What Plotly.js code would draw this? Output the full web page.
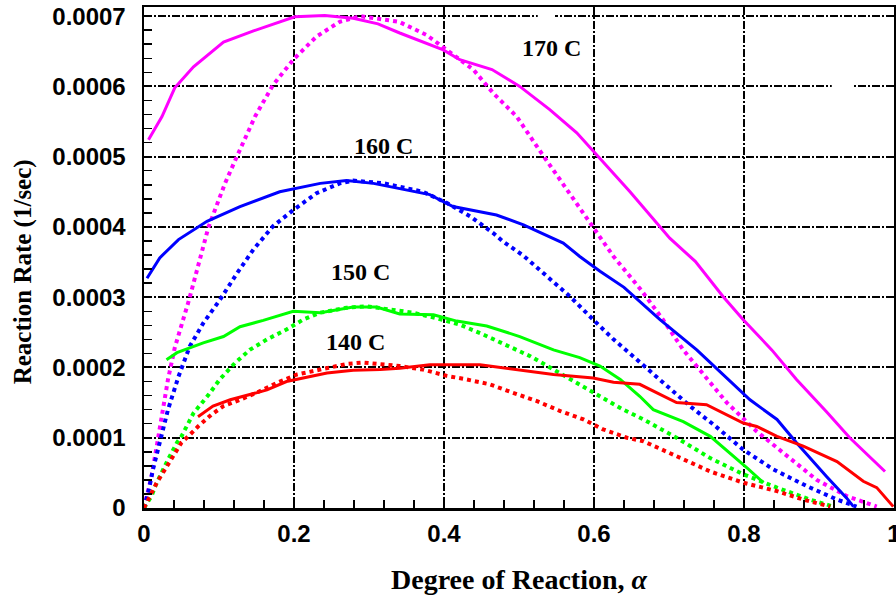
<!DOCTYPE html>
<html>
<head>
<meta charset="utf-8">
<script src="https://cdn.plot.ly/plotly-3.0.1.min.js"></script>
<style>
  html, body { margin: 0; padding: 0; background: #ffffff; }
  #chart { width: 896px; height: 596px; }
</style>
</head>
<body>
<div id="chart"></div>
<script>
// Reaction rate vs. degree of reaction: measured (solid) and model (dotted) curves

// 170 C
const x170exp = [0.006, 0.024, 0.041, 0.066, 0.106, 0.146, 0.201, 0.241, 0.279, 0.312, 0.341, 0.399, 0.421, 0.464, 0.501, 0.541, 0.577, 0.608, 0.648, 0.701, 0.735, 0.772, 0.799, 0.837, 0.87, 0.91, 0.941, 0.988];
const y170exp = [5.24e-4, 5.57e-4, 5.98e-4, 6.28e-4, 6.63e-4, 6.79e-4, 6.99e-4, 7.01e-4, 6.97e-4, 6.89e-4, 6.76e-4, 6.52e-4, 6.38e-4, 6.24e-4, 6.00e-4, 5.67e-4, 5.34e-4, 4.97e-4, 4.50e-4, 3.84e-4, 3.51e-4, 3.01e-4, 2.68e-4, 2.25e-4, 1.83e-4, 1.37e-4, 1.00e-4, 0.52e-4];
const x170mod = [0, 0.010, 0.017, 0.024, 0.032, 0.041, 0.060, 0.086, 0.108, 0.125, 0.148, 0.172, 0.199, 0.230, 0.261, 0.288, 0.340, 0.377, 0.410, 0.439, 0.466, 0.497, 0.530, 0.564, 0.599, 0.626, 0.663, 0.692, 0.719, 0.748, 0.777, 0.817, 0.857, 0.897, 0.937, 0.977];
const y170mod = [0, 0.45e-4, 0.88e-4, 1.30e-4, 1.83e-4, 2.28e-4, 2.96e-4, 4.00e-4, 4.62e-4, 5.03e-4, 5.57e-4, 6.02e-4, 6.38e-4, 6.71e-4, 6.92e-4, 7.00e-4, 6.92e-4, 6.73e-4, 6.47e-4, 6.24e-4, 5.90e-4, 5.57e-4, 5.05e-4, 4.53e-4, 4.00e-4, 3.58e-4, 3.10e-4, 2.68e-4, 2.25e-4, 1.87e-4, 1.50e-4, 1.09e-4, 0.74e-4, 0.40e-4, 0.17e-4, 0.02e-4];

// 160 C
const x160exp = [0.004, 0.021, 0.046, 0.084, 0.128, 0.181, 0.235, 0.270, 0.306, 0.341, 0.381, 0.412, 0.470, 0.506, 0.559, 0.581, 0.608, 0.640, 0.688, 0.737, 0.77, 0.808, 0.844, 0.87, 0.91, 0.937, 0.946];
const y160exp = [3.27e-4, 3.56e-4, 3.82e-4, 4.08e-4, 4.29e-4, 4.50e-4, 4.62e-4, 4.66e-4, 4.62e-4, 4.55e-4, 4.46e-4, 4.29e-4, 4.17e-4, 4.03e-4, 3.77e-4, 3.58e-4, 3.37e-4, 3.14e-4, 2.68e-4, 2.25e-4, 1.92e-4, 1.54e-4, 1.26e-4, 0.93e-4, 0.45e-4, 0.14e-4, 0.02e-4];
const x160mod = [0, 0.006, 0.012, 0.021, 0.032, 0.046, 0.061, 0.079, 0.101, 0.124, 0.146, 0.172, 0.199, 0.230, 0.261, 0.279, 0.320, 0.372, 0.404, 0.435, 0.466, 0.479, 0.506, 0.537, 0.568, 0.599, 0.626, 0.652, 0.690, 0.728, 0.759, 0.799, 0.839, 0.884, 0.924, 0.950];
const y160mod = [0, 0.24e-4, 0.55e-4, 0.93e-4, 1.40e-4, 1.87e-4, 2.30e-4, 2.63e-4, 2.96e-4, 3.34e-4, 3.68e-4, 4.01e-4, 4.24e-4, 4.48e-4, 4.62e-4, 4.66e-4, 4.62e-4, 4.50e-4, 4.34e-4, 4.15e-4, 3.91e-4, 3.79e-4, 3.59e-4, 3.30e-4, 3.01e-4, 2.68e-4, 2.40e-4, 2.16e-4, 1.80e-4, 1.45e-4, 1.19e-4, 0.83e-4, 0.55e-4, 0.31e-4, 0.12e-4, 0.02e-4];

// 150 C
const x150exp = [0.030, 0.044, 0.079, 0.106, 0.128, 0.159, 0.199, 0.235, 0.279, 0.310, 0.341, 0.386, 0.417, 0.457, 0.501, 0.546, 0.581, 0.608, 0.635, 0.661, 0.679, 0.719, 0.755, 0.786, 0.804, 0.826];
const y150exp = [2.11e-4, 2.21e-4, 2.35e-4, 2.44e-4, 2.58e-4, 2.67e-4, 2.80e-4, 2.78e-4, 2.86e-4, 2.86e-4, 2.76e-4, 2.75e-4, 2.66e-4, 2.59e-4, 2.44e-4, 2.25e-4, 2.14e-4, 2.02e-4, 1.83e-4, 1.59e-4, 1.40e-4, 1.23e-4, 1.02e-4, 0.74e-4, 0.57e-4, 0.36e-4];
const x150mod = [0, 0.010, 0.017, 0.024, 0.032, 0.044, 0.050, 0.066, 0.086, 0.101, 0.121, 0.141, 0.164, 0.190, 0.212, 0.235, 0.270, 0.297, 0.330, 0.359, 0.390, 0.421, 0.452, 0.484, 0.515, 0.546, 0.577, 0.608, 0.639, 0.666, 0.710, 0.755, 0.799, 0.844, 0.888, 0.919];
const y150mod = [0, 0.17e-4, 0.36e-4, 0.50e-4, 0.69e-4, 0.93e-4, 1.02e-4, 1.35e-4, 1.61e-4, 1.83e-4, 2.06e-4, 2.25e-4, 2.40e-4, 2.54e-4, 2.68e-4, 2.78e-4, 2.85e-4, 2.87e-4, 2.82e-4, 2.78e-4, 2.70e-4, 2.61e-4, 2.47e-4, 2.32e-4, 2.16e-4, 1.97e-4, 1.78e-4, 1.59e-4, 1.40e-4, 1.26e-4, 1.00e-4, 0.71e-4, 0.48e-4, 0.29e-4, 0.12e-4, 0.02e-4];

// 140 C
const x140exp = [0.072, 0.092, 0.115, 0.141, 0.164, 0.190, 0.221, 0.244, 0.279, 0.315, 0.341, 0.381, 0.448, 0.501, 0.546, 0.599, 0.626, 0.661, 0.69, 0.710, 0.750, 0.777, 0.799, 0.817, 0.844, 0.879, 0.924, 0.959, 0.977, 0.999];
const y140exp = [1.30e-4, 1.45e-4, 1.54e-4, 1.61e-4, 1.68e-4, 1.80e-4, 1.87e-4, 1.92e-4, 1.96e-4, 1.97e-4, 1.99e-4, 2.04e-4, 2.04e-4, 1.96e-4, 1.90e-4, 1.85e-4, 1.79e-4, 1.76e-4, 1.60e-4, 1.50e-4, 1.47e-4, 1.33e-4, 1.21e-4, 1.16e-4, 1.02e-4, 0.88e-4, 0.66e-4, 0.38e-4, 0.29e-4, 0.02e-4];
const x140mod = [0, 0.012, 0.017, 0.024, 0.030, 0.041, 0.050, 0.061, 0.072, 0.090, 0.106, 0.128, 0.150, 0.177, 0.204, 0.235, 0.270, 0.292, 0.324, 0.341, 0.372, 0.404, 0.430, 0.461, 0.492, 0.524, 0.555, 0.586, 0.612, 0.644, 0.666, 0.710, 0.755, 0.799, 0.844, 0.879, 0.915];
const y140mod = [0, 0.26e-4, 0.36e-4, 0.48e-4, 0.59e-4, 0.78e-4, 0.93e-4, 1.04e-4, 1.16e-4, 1.33e-4, 1.45e-4, 1.54e-4, 1.64e-4, 1.78e-4, 1.90e-4, 1.97e-4, 2.05e-4, 2.07e-4, 2.04e-4, 2.02e-4, 1.97e-4, 1.88e-4, 1.83e-4, 1.76e-4, 1.64e-4, 1.52e-4, 1.38e-4, 1.26e-4, 1.12e-4, 1.00e-4, 0.95e-4, 0.74e-4, 0.52e-4, 0.36e-4, 0.24e-4, 0.12e-4, 0.02e-4];

const tempLabels = ['170 C', '160 C', '150 C', '140 C'];
const labelX = [0.543, 0.319, 0.289, 0.282];
const labelY = [6.55e-4, 5.155e-4, 3.356e-4, 2.36e-4];

const xTickVals = [0, 0.2, 0.4, 0.6, 0.8, 1];
const xTickText = ['0', '0.2', '0.4', '0.6', '0.8', '1'];
const yTickVals = [0, 0.0001, 0.0002, 0.0003, 0.0004, 0.0005, 0.0006, 0.0007];
const yTickText = ['0', '0.0001', '0.0002', '0.0003', '0.0004', '0.0005', '0.0006', '0.0007'];

const series = [
  { x: x170exp, y: y170exp, color: '#ff00ff', dash: 'solid', width: 3 },
  { x: x170mod, y: y170mod, color: '#ff00ff', dash: 'dot', width: 4 },
  { x: x160exp, y: y160exp, color: '#0000ff', dash: 'solid', width: 3 },
  { x: x160mod, y: y160mod, color: '#0000ff', dash: 'dot', width: 4 },
  { x: x150exp, y: y150exp, color: '#00ff00', dash: 'solid', width: 3 },
  { x: x150mod, y: y150mod, color: '#00ff00', dash: 'dot', width: 4 },
  { x: x140exp, y: y140exp, color: '#ff0000', dash: 'solid', width: 3 },
  { x: x140mod, y: y140mod, color: '#ff0000', dash: 'dot', width: 4 }
];

const traces = series.map(s => ({
  type: 'scatter',
  mode: 'lines',
  x: s.x,
  y: s.y,
  line: { color: s.color, width: s.width, dash: s.dash },
  hoverinfo: 'x+y',
  showlegend: false
}));

const tickFont = { family: 'Liberation Sans, Arial, sans-serif', size: 24, color: '#000000', weight: 'bold' };
const serif = 'Liberation Serif, Times New Roman, serif';
const gridDash = '8px,2px,2px,2px';

const annotations = tempLabels.map((t, i) => ({
  x: labelX[i], y: labelY[i], xref: 'x', yref: 'y',
  text: '<b>' + t + '</b>', showarrow: false,
  font: { family: serif, size: 24, color: '#000000' },
  xanchor: 'center', yanchor: 'middle'
}));

// vertical axis title, placed as a rotated annotation
annotations.push({
  x: -0.161, y: 0.471, xref: 'paper', yref: 'paper',
  text: '<b>Reaction Rate (1/sec)</b>', showarrow: false, textangle: -90,
  font: { family: serif, size: 25, color: '#000000' },
  xanchor: 'center', yanchor: 'middle'
});

// small blank patches that interrupt a few grid lines
const gapX0 = [0.525, 0.917, 0.485];
const gapX1 = [0.548, 0.945, 0.504];
const gapY0 = [0.000690, 0.000594, 0.000394];
const gapY1 = [0.000713, 0.000606, 0.000406];
const shapes = gapX0.map((x0, i) => ({
  type: 'rect', xref: 'x', yref: 'y', layer: 'between',
  x0: x0, x1: gapX1[i], y0: gapY0[i], y1: gapY1[i],
  fillcolor: '#ffffff', line: { width: 0 }
}));

const layout = {
  width: 896,
  height: 596,
  paper_bgcolor: '#ffffff',
  plot_bgcolor: '#ffffff',
  margin: { l: 144, r: 2, t: 7, b: 88 },
  showlegend: false,
  xaxis: {
    range: [0, 1.0],
    tickvals: xTickVals,
    ticktext: xTickText,
    ticks: 'inside', ticklen: 8, tickwidth: 1.5, tickcolor: '#000000',
    minor: { dtick: 0.04, ticks: 'inside', ticklen: 8, tickwidth: 1.5, tickcolor: '#000000', showgrid: false },
    showgrid: true, gridcolor: '#000000', gridwidth: 2, griddash: gridDash,
    zeroline: false,
    showline: true, linecolor: '#000000', linewidth: 2.5, mirror: true,
    tickfont: tickFont,
    ticklabelstandoff: 3,
    ticklabeloverflow: 'allow',
    title: { text: '<b>Degree of Reaction, <i>α</i></b>', font: { family: serif, size: 28, color: '#000000' }, standoff: 23 }
  },
  yaxis: {
    range: [0, 0.000713],
    tickvals: yTickVals,
    ticktext: yTickText,
    ticks: 'inside', ticklen: 8, tickwidth: 1.5, tickcolor: '#000000',
    minor: { dtick: 0.00002, ticks: 'inside', ticklen: 8, tickwidth: 1.5, tickcolor: '#000000', showgrid: false },
    showgrid: true, gridcolor: '#000000', gridwidth: 2, griddash: gridDash,
    zeroline: false,
    showline: true, linecolor: '#000000', linewidth: 2.5, mirror: true,
    tickfont: tickFont,
    ticklabelstandoff: 11
  },
  shapes: shapes,
  annotations: annotations
};

Plotly.newPlot('chart', traces, layout, { displayModeBar: false, staticPlot: true });
</script>
</body>
</html>
